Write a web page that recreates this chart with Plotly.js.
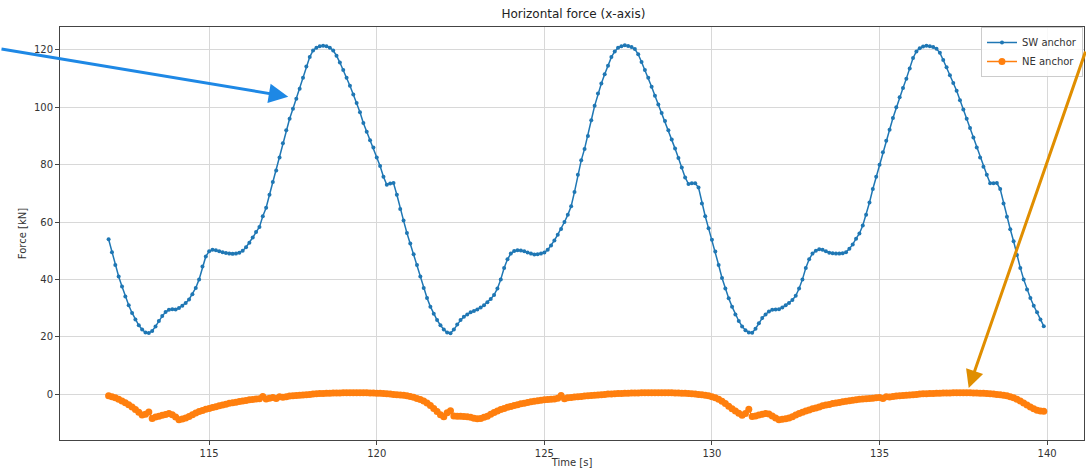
<!DOCTYPE html>
<html>
<head>
<meta charset="utf-8">
<script src="https://cdn.plot.ly/plotly-3.0.1.min.js"></script>
<style>html,body{margin:0;padding:0;background:#fff}#chart{width:1086px;height:468px}</style>
</head>
<body>
<div id="chart"></div>
<script>
const time = [
112.0,112.1,112.2,112.3,112.4,112.5,112.6,112.7,112.8,112.9,
113.0,113.1,113.2,113.3,113.4,113.5,113.6,113.7,113.8,113.9,
114.0,114.1,114.2,114.3,114.4,114.5,114.6,114.7,114.8,114.9,
115.0,115.1,115.2,115.3,115.4,115.5,115.6,115.7,115.8,115.9,
116.0,116.1,116.2,116.3,116.4,116.5,116.6,116.7,116.8,116.9,
117.0,117.1,117.2,117.3,117.4,117.5,117.6,117.7,117.8,117.9,
118.0,118.1,118.2,118.3,118.4,118.5,118.6,118.7,118.8,118.9,
119.0,119.1,119.2,119.3,119.4,119.5,119.6,119.7,119.8,119.9,
120.0,120.1,120.2,120.3,120.4,120.5,120.6,120.7,120.8,120.9,
121.0,121.1,121.2,121.3,121.4,121.5,121.6,121.7,121.8,121.9,
122.0,122.1,122.2,122.3,122.4,122.5,122.6,122.7,122.8,122.9,
123.0,123.1,123.2,123.3,123.4,123.5,123.6,123.7,123.8,123.9,
124.0,124.1,124.2,124.3,124.4,124.5,124.6,124.7,124.8,124.9,
125.0,125.1,125.2,125.3,125.4,125.5,125.6,125.7,125.8,125.9,
126.0,126.1,126.2,126.3,126.4,126.5,126.6,126.7,126.8,126.9,
127.0,127.1,127.2,127.3,127.4,127.5,127.6,127.7,127.8,127.9,
128.0,128.1,128.2,128.3,128.4,128.5,128.6,128.7,128.8,128.9,
129.0,129.1,129.2,129.3,129.4,129.5,129.6,129.7,129.8,129.9,
130.0,130.1,130.2,130.3,130.4,130.5,130.6,130.7,130.8,130.9,
131.0,131.1,131.2,131.3,131.4,131.5,131.6,131.7,131.8,131.9,
132.0,132.1,132.2,132.3,132.4,132.5,132.6,132.7,132.8,132.9,
133.0,133.1,133.2,133.3,133.4,133.5,133.6,133.7,133.8,133.9,
134.0,134.1,134.2,134.3,134.4,134.5,134.6,134.7,134.8,134.9,
135.0,135.1,135.2,135.3,135.4,135.5,135.6,135.7,135.8,135.9,
136.0,136.1,136.2,136.3,136.4,136.5,136.6,136.7,136.8,136.9,
137.0,137.1,137.2,137.3,137.4,137.5,137.6,137.7,137.8,137.9,
138.0,138.1,138.2,138.3,138.4,138.5,138.6,138.7,138.8,138.9,
139.0,139.1,139.2,139.3,139.4,139.5,139.6,139.7,139.8,139.9
];

const swAnchor = [
54.0,49.5,45.0,41.0,37.5,34.0,31.0,28.3,26.0,24.0,
22.5,21.5,21.3,22.0,23.6,25.5,27.2,28.6,29.4,29.6,
29.5,30.0,30.8,31.8,33.0,34.8,37.0,40.0,44.5,48.0,
49.8,50.3,50.2,49.8,49.5,49.2,49.0,48.9,49.0,49.3,
50.0,51.2,52.8,54.6,56.5,58.3,62.0,65.0,69.5,74.0,
78.0,82.5,87.5,92.0,96.0,99.5,103.0,106.5,110.3,114.2,
117.5,119.8,120.8,121.3,121.5,121.3,120.8,119.8,118.0,115.6,
113.0,110.3,107.5,104.5,101.5,98.3,94.5,91.5,88.5,86.0,
82.5,79.5,75.8,73.0,73.4,73.6,69.5,64.5,60.5,56.2,
52.5,48.8,45.0,41.0,37.0,33.5,30.5,28.0,25.8,24.0,
22.5,21.5,21.2,22.5,24.3,25.8,27.0,27.8,28.5,29.0,
29.5,30.2,31.0,32.0,33.2,34.6,36.8,40.0,44.0,47.0,
49.0,49.9,50.2,50.1,49.8,49.4,49.0,48.7,48.8,49.0,
49.4,50.3,51.8,53.6,55.6,57.6,60.0,62.5,65.5,70.5,
76.5,81.5,85.5,90.0,95.5,100.5,104.8,108.3,111.5,114.5,
117.5,119.5,120.8,121.3,121.6,121.4,121.0,120.3,118.5,115.8,
113.0,110.3,107.2,104.0,101.0,98.0,95.2,92.0,88.8,85.6,
82.3,79.0,75.5,73.3,73.5,73.5,72.0,66.5,62.0,57.8,
53.8,49.7,45.0,40.5,36.8,33.4,30.5,27.8,25.5,23.6,
22.3,21.5,21.4,22.8,24.7,26.5,27.8,28.8,29.4,29.5,
29.6,30.2,31.0,31.8,32.8,34.3,36.8,40.0,44.0,47.0,
49.0,50.0,50.5,50.3,49.8,49.3,49.1,49.0,49.0,49.1,
49.5,50.7,52.2,54.2,56.0,58.8,62.5,66.8,71.5,75.8,
80.0,84.3,88.3,92.2,96.3,100.0,103.5,106.7,110.0,113.5,
117.2,119.5,120.6,121.2,121.5,121.3,121.0,120.4,119.0,116.5,
114.0,111.2,108.5,105.8,102.5,99.2,96.0,92.8,89.5,86.0,
82.5,79.3,76.5,73.5,73.5,73.6,71.5,66.5,61.8,57.5,
53.3,48.5,44.0,40.0,36.5,33.5,30.8,28.5,26.0,23.7
];

const neAnchor = [
-0.6,-0.9,-1.3,-1.8,-2.4,-3.0,-3.7,-4.5,-5.4,-6.3,
-7.3,-7.0,-6.2,-8.5,-8.0,-7.7,-7.4,-7.1,-6.8,-7.2,
-8.0,-8.9,-8.7,-8.3,-7.8,-7.2,-6.6,-6.1,-5.7,-5.3,
-5.0,-4.7,-4.4,-4.1,-3.8,-3.5,-3.2,-3.0,-2.8,-2.6,
-2.4,-2.2,-2.0,-1.9,-1.7,-1.6,-0.8,-1.7,-1.4,-1.2,
-1.5,-0.9,-1.1,-0.9,-0.7,-0.6,-0.5,-0.4,-0.3,-0.2,
-0.1,0.0,0.1,0.2,0.2,0.3,0.3,0.4,0.4,0.4,
0.5,0.5,0.5,0.5,0.5,0.5,0.5,0.5,0.4,0.4,
0.3,0.3,0.2,0.1,0.0,-0.1,-0.2,-0.3,-0.4,-0.6,
-0.8,-1.1,-1.5,-1.9,-2.4,-3.1,-4.0,-5.0,-6.1,-7.2,
-7.9,-6.5,-5.8,-7.6,-7.7,-7.7,-7.8,-7.9,-8.1,-8.4,
-8.6,-8.5,-8.1,-7.7,-7.0,-6.4,-5.9,-5.4,-5.0,-4.6,
-4.3,-4.0,-3.7,-3.4,-3.2,-2.9,-2.7,-2.5,-2.3,-2.1,
-2.0,-1.9,-1.8,-1.7,-1.4,-0.5,-1.6,-1.3,-1.2,-1.0,
-0.9,-0.8,-0.7,-0.6,-0.5,-0.4,-0.3,-0.2,-0.1,0.0,
0.0,0.1,0.2,0.2,0.3,0.3,0.4,0.4,0.4,0.5,
0.5,0.5,0.5,0.5,0.5,0.5,0.5,0.5,0.5,0.4,
0.4,0.3,0.3,0.2,0.1,0.0,-0.1,-0.2,-0.4,-0.6,
-0.9,-1.3,-1.8,-2.5,-3.3,-4.2,-5.1,-5.9,-6.7,-7.4,
-6.8,-5.3,-7.8,-7.6,-7.3,-7.0,-6.8,-6.9,-7.6,-8.3,
-8.9,-8.8,-8.6,-8.3,-7.9,-7.3,-6.8,-6.3,-5.9,-5.5,
-5.1,-4.8,-4.5,-4.1,-3.8,-3.6,-3.3,-3.1,-2.9,-2.7,
-2.5,-2.3,-2.1,-2.0,-1.8,-1.7,-1.6,-1.5,-1.4,-1.3,
-1.2,-1.5,-0.9,-1.0,-0.8,-0.7,-0.6,-0.5,-0.4,-0.3,
-0.2,-0.1,0.0,0.1,0.1,0.2,0.2,0.3,0.3,0.4,
0.4,0.4,0.5,0.5,0.5,0.5,0.5,0.5,0.4,0.4,
0.3,0.3,0.2,0.1,0.0,-0.1,-0.2,-0.4,-0.6,-0.9,
-1.3,-1.8,-2.4,-3.1,-3.8,-4.5,-5.1,-5.6,-5.9,-6.0
];

const seriesNames = ['SW anchor', 'NE anchor'];
const chartTitle = 'Horizontal force (x-axis)';
const xTitle = 'Time [s]';
const yTitle = 'Force [kN]';
const xTicks = [115, 120, 125, 130, 135, 140];
const yTicks = [0, 20, 40, 60, 80, 100, 120];

const font = 'DejaVu Sans, Liberation Sans, sans-serif';

const traces = [
  {
    x: time, y: swAnchor, name: seriesNames[0], type: 'scatter', mode: 'lines+markers',
    line: {color: '#1f77b4', width: 1.5},
    marker: {color: '#1f77b4', size: 4}
  },
  {
    x: time, y: neAnchor, name: seriesNames[1], type: 'scatter', mode: 'lines+markers',
    line: {color: '#ff7f0e', width: 1.5},
    marker: {color: '#ff7f0e', size: 7}
  }
];

const axisCommon = {
  showline: true, mirror: true, linecolor: '#444', linewidth: 1,
  showgrid: true, gridcolor: '#d8d8d8', gridwidth: 1,
  zeroline: false, ticks: 'outside', ticklen: 4, tickcolor: '#444',
  tickfont: {family: font, size: 10, color: '#333'}
};

const layout = {
  width: 1086, height: 468,
  margin: {l: 60, r: 2, t: 27, b: 28},
  paper_bgcolor: '#fff', plot_bgcolor: '#fff',
  font: {family: font, size: 10, color: '#333'},
  title: {text: chartTitle, font: {family: font, size: 12, color: '#222'}, x: 0.528, xanchor: 'center', y: 0.97, yanchor: 'middle'},
  xaxis: Object.assign({}, axisCommon, {
    range: [110.55, 141.1], tickvals: xTicks, ticktext: xTicks.map(String),
    title: {text: xTitle, font: {family: font, size: 10, color: '#333'}, standoff: 4}
  }),
  yaxis: Object.assign({}, axisCommon, {
    range: [-16, 128], tickvals: yTicks, ticktext: yTicks.map(String),
    title: {text: yTitle, font: {family: font, size: 10, color: '#333'}, standoff: 5}
  }),
  legend: {
    x: 0.999, xanchor: 'right', y: 1.0, yanchor: 'top',
    bgcolor: 'rgba(255,255,255,0.85)', bordercolor: '#cccccc', borderwidth: 1,
    font: {family: font, size: 10, color: '#333'}, itemwidth: 30, tracegroupgap: 0
  },
  showlegend: true,
  annotations: [
    {x: 117.36, y: 103.7, xref: 'x', yref: 'y', text: '', showarrow: true,
     ax: -290, ay: -48, axref: 'pixel', ayref: 'pixel',
     arrowhead: 2, arrowsize: 1.3, arrowwidth: 3, arrowcolor: '#1E88E5', standoff: 0},
    {x: 137.66, y: 2.1, xref: 'x', yref: 'y', text: '', showarrow: true,
     ax: 121, ay: -338, axref: 'pixel', ayref: 'pixel',
     arrowhead: 2, arrowsize: 1.2, arrowwidth: 3, arrowcolor: '#E08E00', standoff: 0}
  ]
};

Plotly.newPlot('chart', traces, layout, {displayModeBar: false, staticPlot: true});
</script>
</body>
</html>
